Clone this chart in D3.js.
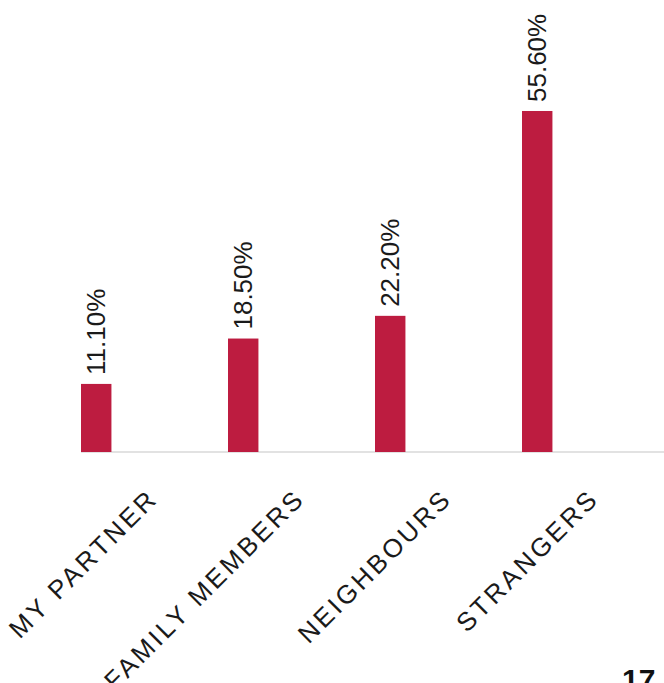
<!DOCTYPE html>
<html>
<head>
<meta charset="utf-8">
<script src="https://cdn.jsdelivr.net/npm/d3@7"></script>
<style>
  html, body { margin: 0; padding: 0; background: #fff; }
  svg { display: block; }
</style>
</head>
<body>
<script>
const categories = ["MY PARTNER", "FAMILY MEMBERS", "NEIGHBOURS", "STRANGERS"];
const values = [11.1, 18.5, 22.2, 55.6];
const pageNumber = "17";

const W = 664, H = 683;
const svg = d3.select("body").append("svg").attr("width", W).attr("height", H);

const x = d3.scaleBand().domain(categories).range([81, 669]).paddingInner(0).paddingOuter(0);
const y = d3.scaleLinear().domain([0, 60]).range([452, 84]);
const barW = x.bandwidth() * 0.207;
const font = "'Liberation Sans', Arial, sans-serif";

// baseline axis
svg.append("line")
  .attr("x1", x.range()[0]).attr("x2", W)
  .attr("y1", y(0)).attr("y2", y(0))
  .attr("stroke", "#d9d9d9").attr("stroke-width", 1.5);

const data = categories.map((c, i) => ({ c, v: values[i] }));

svg.selectAll("rect.bar").data(data).join("rect")
  .attr("class", "bar")
  .attr("x", d => x(d.c))
  .attr("width", barW)
  .attr("y", d => y(d.v))
  .attr("height", d => y(0) - y(d.v))
  .attr("fill", "#BD1C40");

svg.selectAll("text.val").data(data).join("text")
  .attr("class", "val")
  .attr("transform", d => `translate(${x(d.c) + barW / 2},${y(d.v) - 9}) rotate(-90)`)
  .attr("dy", "0.35em")
  .attr("text-anchor", "start")
  .attr("font-family", font)
  .attr("font-size", 26)
  .attr("fill", "#1a1a1a")
  .text(d => d3.format(".2f")(d.v) + "%");

svg.selectAll("text.cat").data(categories).join("text")
  .attr("class", "cat")
  .attr("transform", d => `translate(${x(d) + x.bandwidth() / 2 + 5},${y(0) + 48}) rotate(-45)`)
  .attr("text-anchor", "end")
  .attr("font-family", font)
  .attr("font-size", 26)
  .attr("letter-spacing", 3)
  .attr("fill", "#1a1a1a")
  .text(d => d);

svg.append("text")
  .attr("x", 622).attr("y", 690)
  .attr("font-family", font)
  .attr("font-weight", "bold")
  .attr("font-size", 30)
  .attr("fill", "#111")
  .text(pageNumber);
</script>
</body>
</html>
